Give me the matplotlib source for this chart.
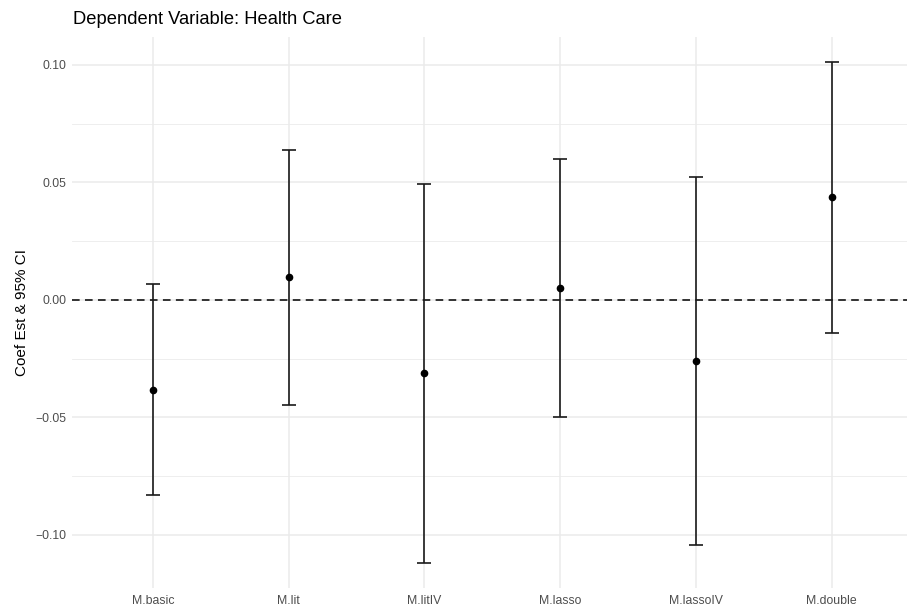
import matplotlib
matplotlib.use('Agg')
import matplotlib.pyplot as plt
import numpy as np

# Model names and coefficient estimates with 95% CI bounds
models = ['M.basic', 'M.lit', 'M.litIV', 'M.lasso', 'M.lassoIV', 'M.double']
estimate = [-0.0382, 0.0097, -0.0312, 0.0051, -0.0260, 0.0437]
ci_lower = [-0.0830, -0.0445, -0.1119, -0.0496, -0.1043, -0.0142]
ci_upper = [0.0068, 0.0637, 0.0494, 0.0600, 0.0525, 0.1014]

plt.rcParams['font.family'] = ['Liberation Sans', 'DejaVu Sans']

fig = plt.figure(figsize=(9.07, 6.09), dpi=100)
fig.patch.set_facecolor('white')

# panel placed like ggplot's theme_minimal (slightly cut on the right)
ax = fig.add_axes([71.6 / 907, 1 - 588 / 609, 841.4 / 907, 551.4 / 609])

x = np.arange(len(models))
est = np.array(estimate)
lo = np.array(ci_lower)
hi = np.array(ci_upper)

# reference line at zero
ax.axhline(0, color='black', linewidth=1.1, linestyle=(0, (5, 3.5)), zorder=2)

ax.errorbar(x, est, yerr=[est - lo, hi - est], fmt='o', color='black',
            ecolor='#1a1a1a', elinewidth=1.2, capsize=4.9, capthick=1.2,
            markersize=4.5, zorder=3)

# axis ranges with ggplot-like expansion
ax.set_xlim(-0.6, len(models) - 0.4)
span = hi.max() - lo.min()
ax.set_ylim(lo.min() - 0.05 * span, hi.max() + 0.05 * span)

major = [-0.10, -0.05, 0.00, 0.05, 0.10]
minor = [-0.075, -0.025, 0.025, 0.075]
ax.set_yticks(major)
ax.set_yticklabels(['\u22120.10', '\u22120.05', '0.00', '0.05', '0.10'])
ax.set_yticks(minor, minor=True)
ax.set_xticks(x)
ax.set_xticklabels(models)

ax.grid(True, which='major', color='#EBEBEB', linewidth=1.1, zorder=0)
ax.grid(True, which='minor', axis='y', color='#EBEBEB', linewidth=0.6, zorder=0)
ax.set_axisbelow(True)
for s in ax.spines.values():
    s.set_visible(False)
ax.tick_params(which='both', length=0)
ax.tick_params(axis='y', labelsize=8.8, labelcolor='#4D4D4D', pad=4)
ax.tick_params(axis='x', labelsize=8.8, labelcolor='#4D4D4D', pad=5)

ax.set_ylabel('Coef Est & 95% CI', fontsize=11, color='black', labelpad=4)

fig.text(73 / 907, 1 - 19 / 609, 'Dependent Variable: Health Care',
         fontsize=13.2, ha='left', va='center')

plt.savefig('out.png', dpi=100)
plt.close()
